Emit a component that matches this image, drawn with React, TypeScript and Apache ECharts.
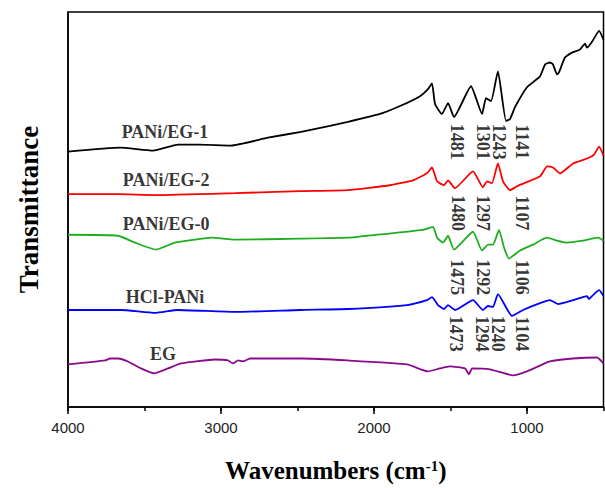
import React, { useEffect, useRef } from 'react';
import * as echarts from 'echarts';

// [wavenumber (cm-1), offset transmittance (a.u.)]
const paniEG1: number[][] = [
  [4000, 258], [3660, 262], [3444, 259], [3281, 265], [3137, 265], [2935, 264], [2693, 272],
  [2477, 278], [2288, 284], [2170, 288], [1961, 296], [1830, 304], [1699, 314], [1647, 321],
  [1621, 327], [1601, 306], [1556, 296], [1516, 307], [1477, 293], [1366, 324], [1294, 296],
  [1268, 312], [1235, 309], [1190, 339], [1137, 289], [1111, 291], [1078, 303], [1000, 323],
  [915, 334], [882, 346], [850, 348], [830, 346], [804, 336], [791, 338], [752, 353], [706, 358],
  [654, 361], [621, 367], [608, 363], [575, 369], [529, 380], [500, 371],
];

const paniEG2: number[][] = [
  [4000, 215], [3673, 215], [3431, 214], [2908, 216], [2484, 218], [2170, 219], [1895, 224],
  [1745, 229], [1654, 236], [1621, 242], [1588, 228], [1542, 224], [1516, 229], [1471, 221],
  [1353, 238], [1288, 222], [1261, 228], [1229, 226], [1190, 246], [1157, 228], [1111, 219],
  [1065, 223], [915, 233], [869, 243], [830, 242], [784, 236], [699, 246], [608, 251], [562, 255],
  [529, 263], [500, 254],
];

const paniEG0: number[][] = [
  [4000, 174], [3673, 173], [3562, 166], [3425, 159], [3301, 166], [3170, 169], [3065, 171],
  [2908, 169], [2484, 170], [2170, 171], [2046, 173], [1680, 179], [1614, 182], [1588, 171],
  [1549, 166], [1516, 173], [1477, 159], [1353, 177], [1294, 158], [1255, 164], [1222, 164],
  [1183, 179], [1150, 161], [1118, 150], [1046, 158], [961, 164], [869, 171], [804, 168],
  [739, 166], [634, 168], [536, 171], [500, 168],
];

const hclPANi: number[][] = [
  [4000, 98], [3654, 98], [3431, 95], [3281, 98], [2908, 96], [2484, 98], [2170, 99], [1784, 103],
  [1654, 108], [1621, 111], [1582, 103], [1542, 99], [1516, 103], [1471, 98], [1353, 108],
  [1288, 98], [1255, 102], [1222, 101], [1190, 114], [1098, 92], [1026, 98], [915, 105],
  [850, 108], [797, 104], [699, 108], [608, 112], [595, 109], [569, 113], [529, 118], [500, 112],
];

const eg: number[][] = [
  [4000, 43], [3758, 47], [3725, 49], [3673, 49], [3608, 46], [3523, 39], [3438, 34], [3346, 39],
  [3261, 44], [3039, 48], [2954, 47], [2922, 44], [2889, 47], [2856, 46], [2810, 49], [2477, 49],
  [2170, 47], [1784, 43], [1647, 36], [1569, 39], [1503, 41], [1405, 39], [1379, 33], [1359, 39],
  [1242, 38], [1091, 32], [1000, 36], [850, 46], [699, 49], [542, 50], [500, 44],
];

const seriesNames = ['PANi/EG-1', 'PANi/EG-2', 'PANi/EG-0', 'HCl-PANi', 'EG'];
const seriesColors = ['#000000', '#ff0000', '#1fae1f', '#0000ff', '#8b0a8b'];

// sample name labels: [text, wavenumber, level]
const sampleLabels: [string, number, number][] = [
  ['PANi/EG-1', 3366, 278],
  ['PANi/EG-2', 3359, 229],
  ['PANi/EG-0', 3359, 185],
  ['HCl-PANi', 3366, 111],
  ['EG', 3379, 54],
];

// peak labels: [text, wavenumber, level]
const peakLabels: [string, number, number][] = [
  ['1481', 1458, 268], ['1301', 1288, 268], ['1243', 1183, 268], ['1141', 1033, 268],
  ['1480', 1451, 196], ['1297', 1288, 196], ['1107', 1033, 196],
  ['1475', 1458, 131], ['1292', 1288, 131], ['1106', 1033, 131],
  ['1473', 1464, 74], ['1294', 1294, 74], ['1240', 1190, 74], ['1104', 1033, 74],
];

const xMin = 500;
const xMax = 4000;

const SERIF = '"Liberation Serif", "Times New Roman", serif';
const SANS = '"Liberation Sans", Arial, sans-serif';

export default function App() {
  const ref = useRef<HTMLDivElement>(null);

  useEffect(() => {
    if (!ref.current) return;
    const chart = echarts.init(ref.current, undefined, { renderer: 'svg' });
    const curves = [paniEG1, paniEG2, paniEG0, hclPANi, eg];

    chart.setOption({
      animation: false,
      backgroundColor: '#ffffff',
      grid: {
        left: 68,
        top: 12,
        right: 1.5,
        bottom: 77,
        show: true,
        borderColor: '#000',
        borderWidth: 1.5,
      },
      xAxis: [
        {
          type: 'value',
          position: 'bottom',
          inverse: true,
          min: xMin,
          max: xMax,
          splitNumber: 4,
          axisLine: { show: true, onZero: false, lineStyle: { color: '#000', width: 1.5 } },
          axisTick: { show: true, inside: false, length: 7, lineStyle: { color: '#000', width: 1.5 } },
          axisLabel: {
            showMinLabel: false,
            margin: 13,
            fontSize: 15,
            fontFamily: SANS,
            color: '#222',
            formatter: (v: number) => String(v),
          },
          splitLine: { show: false },
          name: '{t|Wavenumbers (cm}{s|-1}{t|)}',
          nameLocation: 'middle',
          nameGap: 51,
          nameTextStyle: {
            rich: {
              t: { fontFamily: SERIF, fontWeight: 'bold', fontSize: 25, color: '#000' },
              s: { fontFamily: SERIF, fontWeight: 'bold', fontSize: 15, color: '#000', verticalAlign: 'top' },
            },
          },
        },
        {
          type: 'value',
          position: 'bottom',
          offset: 0,
          inverse: true,
          min: xMin,
          max: xMax,
          interval: 500,
          axisLine: { show: false },
          axisTick: { show: true, inside: false, length: 4, lineStyle: { color: '#000', width: 1.5 } },
          axisLabel: { show: false },
          splitLine: { show: false },
        },
      ],
      yAxis: {
        type: 'value',
        min: 0,
        max: 399,
        axisLine: { show: true, onZero: false, lineStyle: { color: '#000', width: 1.5 } },
        axisTick: { show: false },
        axisLabel: { show: false },
        splitLine: { show: false },
        name: 'Transmittance',
        nameLocation: 'middle',
        nameRotate: 90,
        nameGap: 26,
        nameTextStyle: { fontFamily: SERIF, fontWeight: 'bold', fontSize: 27, color: '#000' },
      },
      series: [
        ...curves.map((d, i) => ({
          type: 'line',
          name: seriesNames[i],
          data: d,
          showSymbol: false,
          symbol: 'none',
          silent: true,
          smooth: 0.15,
          lineStyle: { color: seriesColors[i], width: 1.8 },
          z: 2,
        })),
        {
          type: 'scatter',
          silent: true,
          symbolSize: 1,
          itemStyle: { color: 'rgba(0,0,0,0)' },
          data: sampleLabels.map(([t, x, y]) => ({ name: t, value: [x, y] })),
          label: {
            show: true,
            position: 'inside',
            formatter: '{b}',
            fontFamily: SERIF,
            fontWeight: 'bold',
            fontSize: 18,
            color: '#000',
          },
          z: 3,
        },
        {
          type: 'scatter',
          silent: true,
          symbolSize: 1,
          itemStyle: { color: 'rgba(0,0,0,0)' },
          data: peakLabels.map(([t, x, y]) => ({ name: t, value: [x, y] })),
          label: {
            show: true,
            position: 'inside',
            rotate: -90,
            formatter: '{b}',
            fontFamily: SERIF,
            fontWeight: 'bold',
            fontSize: 18,
            color: '#000',
          },
          z: 3,
        },
      ],
    });

    return () => chart.dispose();
  }, []);

  return <div ref={ref} style={{ width: 605, height: 488, position: 'absolute', left: 0, top: 0 }} />;
}
